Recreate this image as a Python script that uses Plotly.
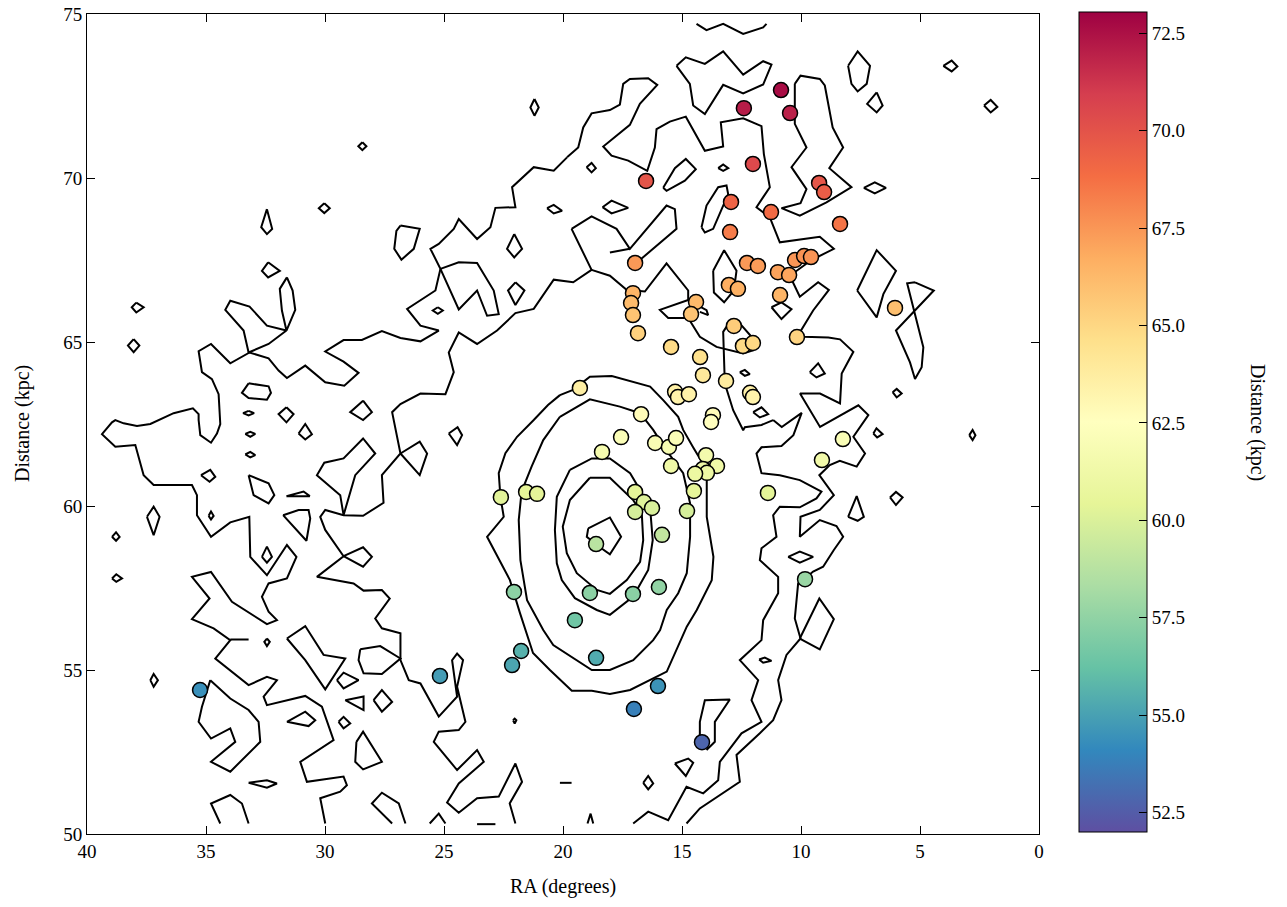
import plotly.graph_objects as go

# ---------------- member stars (RA deg, distance kpc) ----------------
ra = [10.84, 12.40, 10.46, 12.02, 16.51, 9.24, 9.03, 12.94, 11.26, 8.36,
      12.98, 16.97, 12.27, 11.81, 10.25, 9.87, 9.58, 10.97, 10.50, 13.03,
      12.65, 17.06, 17.14, 17.06, 14.41, 14.62, 10.88, 6.05, 12.82, 16.85,
      10.17, 12.44, 12.02, 15.46, 14.24, 14.12, 13.15, 19.29, 15.29, 15.17,
      14.71, 12.14, 12.02, 16.72, 13.70, 13.78, 17.56, 18.36, 16.13, 15.55,
      15.25, 8.24, 13.99, 13.53, 14.12, 13.95, 14.45, 9.12, 15.46, 14.50,
      16.97, 22.61, 21.55, 21.09, 11.39, 16.60, 16.97, 16.26, 14.79, 15.84,
      18.61, 22.06, 18.87, 17.06, 15.97, 9.83, 19.50, 21.76, 22.14, 18.61,
      25.17, 16.01, 35.25, 17.02, 14.16]
dist = [72.68, 72.13, 71.98, 70.43, 69.91, 69.85, 69.57, 69.27, 68.96, 68.60,
        68.35, 67.41, 67.41, 67.32, 67.50, 67.62, 67.59, 67.13, 67.04, 66.74,
        66.62, 66.49, 66.19, 65.82, 66.22, 65.85, 66.43, 66.04, 65.49, 65.27,
        65.15, 64.88, 64.97, 64.85, 64.54, 63.99, 63.81, 63.60, 63.48, 63.32,
        63.41, 63.45, 63.32, 62.80, 62.77, 62.56, 62.10, 61.65, 61.92, 61.80,
        62.07, 62.04, 61.55, 61.22, 61.13, 61.01, 60.98, 61.40, 61.22, 60.46,
        60.43, 60.27, 60.43, 60.37, 60.40, 60.12, 59.82, 59.94, 59.85, 59.12,
        58.84, 57.38, 57.35, 57.32, 57.53, 57.77, 56.52, 55.58, 55.15, 55.37,
        54.82, 54.51, 54.39, 53.81, 52.80]

x_ticks = [40, 35, 30, 25, 20, 15, 10, 5, 0]
y_ticks = [50, 55, 60, 65, 70, 75]
cbar_ticks = [52.5, 55.0, 57.5, 60.0, 62.5, 65.0, 67.5, 70.0, 72.5]
cbar_range = [52.0, 73.05]

# ---------------- density contours (RA, kpc) ----------------
contour_core = [
    [(18.94, 59.32), (18.03, 59.65), (17.56, 59.06), (18.03, 58.53), (18.58, 58.81), (19.00, 59.06), (18.94, 59.32)],
    [(18.87, 60.86), (18.03, 60.86), (17.05, 60.18), (16.69, 59.78), (16.63, 58.96), (16.76, 58.30), (17.32, 57.74),
     (18.03, 57.32), (18.58, 57.44), (19.42, 57.95), (19.84, 58.56), (20.01, 59.37), (19.71, 60.18), (18.87, 60.86)],
    [(19.71, 61.10), (18.79, 61.45), (18.03, 61.45), (17.18, 61.00), (16.76, 60.49), (16.34, 59.94), (16.23, 58.96),
     (16.42, 58.05), (17.05, 57.24), (18.03, 56.68), (18.58, 56.83), (19.50, 57.19), (20.05, 57.74), (20.26, 58.25),
     (20.34, 59.27), (20.26, 60.28), (19.71, 61.10)],
    [(20.13, 62.72), (18.87, 63.25), (17.61, 63.03), (16.76, 62.83), (16.21, 62.32), (15.67, 61.71), (14.95, 61.00),
     (14.66, 60.08), (14.66, 59.06), (14.80, 57.95), (15.16, 57.34), (15.64, 56.83), (15.92, 56.22), (16.21, 55.91),
     (17.05, 55.30), (18.03, 55.00), (18.79, 55.00), (20.41, 55.76), (20.83, 56.22), (21.51, 57.13), (21.79, 58.35),
     (21.86, 59.57), (21.74, 60.44), (21.32, 61.20), (20.83, 62.01), (20.13, 62.72)],
    [(20.13, 63.38), (19.58, 63.54), (18.87, 63.94), (17.95, 63.96), (16.34, 63.64), (15.79, 63.23), (15.16, 62.72),
     (14.95, 62.32), (14.54, 61.80), (13.96, 61.10), (13.96, 59.67), (13.68, 58.45), (13.75, 57.74), (14.38, 56.83),
     (14.80, 56.32), (15.29, 55.51), (15.64, 54.95), (17.18, 54.39), (18.03, 54.27), (18.79, 54.37), (19.63, 54.37),
     (20.55, 55.00), (21.26, 55.52), (21.81, 56.74), (22.23, 57.74), (23.19, 59.06), (22.49, 59.67), (22.63, 60.28),
     (22.70, 61.00), (22.42, 61.61), (21.93, 62.11), (21.23, 62.62), (20.63, 63.08), (20.13, 63.38)],
]

contour_east = [
    [(19.83, 70.63), (19.36, 70.93), (19.15, 71.54), (18.80, 71.97), (18.03, 72.07), (17.61, 72.24), (17.47, 72.87),
     (17.19, 73.02), (16.42, 73.04), (16.04, 72.84), (16.77, 72.26), (17.19, 71.62), (18.31, 70.96), (17.96, 70.68),
     (17.26, 70.53), (16.46, 70.22), (16.14, 70.93), (16.07, 71.49), (15.51, 71.72), (14.84, 71.87), (14.04, 70.83),
     (13.27, 70.96), (13.37, 71.70), (12.43, 71.82), (11.66, 71.58), (11.56, 70.73), (11.31, 69.72), (11.87, 69.11),
     (11.31, 68.80), (10.89, 68.04), (9.21, 68.21), (8.62, 67.84), (9.56, 67.50), (10.05, 67.23), (10.47, 67.02),
     (10.05, 66.38), (9.28, 66.82), (8.83, 66.59), (9.49, 65.96), (10.12, 65.21), (9.90, 65.16), (8.85, 65.14),
     (8.36, 65.08), (7.80, 64.70), (8.29, 64.04), (8.36, 63.13), (9.20, 63.43), (10.04, 63.43), (9.20, 62.41),
     (7.59, 63.07), (7.17, 62.77), (7.80, 62.11), (7.31, 61.60), (7.66, 61.20), (8.37, 61.38), (8.79, 61.25),
     (9.23, 60.94), (8.62, 60.33), (9.21, 59.88), (10.02, 59.67), (10.05, 59.06), (9.21, 59.57), (8.51, 59.39),
     (8.23, 59.06), (8.62, 58.66), (9.07, 58.15), (9.49, 58.00), (9.91, 57.74), (10.12, 57.64), (10.26, 56.57),
     (10.02, 55.96), (10.61, 55.46), (10.96, 54.69), (10.82, 54.08), (11.17, 53.47), (11.73, 53.07), (12.71, 52.41),
     (12.57, 51.59), (13.41, 51.19), (14.25, 50.78), (14.81, 50.32)],
    [(11.17, 62.62), (10.81, 62.41), (9.97, 62.84), (10.32, 62.16), (10.82, 61.83), (11.66, 61.79), (11.87, 61.60),
     (11.66, 61.00), (10.89, 60.94), (10.05, 60.79), (9.14, 60.44), (9.35, 60.23), (10.05, 59.96), (10.89, 59.98),
     (11.17, 59.72), (11.03, 59.06), (11.66, 58.71), (11.73, 58.35), (10.96, 57.84), (10.96, 57.34), (11.59, 56.52),
     (11.66, 55.91), (12.57, 55.30), (11.80, 54.69), (12.08, 54.08), (11.66, 53.42), (12.50, 53.07), (13.41, 52.20),
     (13.48, 51.64), (14.11, 51.24), (14.81, 51.44), (15.58, 50.42), (16.42, 50.68), (17.05, 50.32)],
    [(10.26, 72.87), (10.02, 73.12), (9.21, 73.02), (9.00, 72.82), (8.67, 71.54), (8.23, 70.93), (8.81, 70.30),
     (7.88, 69.72), (8.93, 69.26), (10.05, 68.85), (10.82, 69.08), (10.02, 69.23), (9.77, 69.66), (10.40, 70.33),
     (9.77, 70.93), (10.26, 71.65), (10.26, 72.87)],
    [(15.23, 73.42), (14.84, 73.68), (14.04, 73.48), (13.27, 73.86), (12.43, 73.15), (11.59, 73.56), (11.24, 73.46),
     (11.59, 72.85), (12.43, 72.58), (13.27, 72.84), (14.04, 71.95), (14.53, 72.21), (14.67, 72.87), (15.23, 73.42)],
    [(14.39, 74.70), (13.97, 74.51), (13.27, 74.70), (12.43, 74.39), (11.59, 74.59), (11.45, 74.70)],
    [(8.02, 73.42), (7.62, 73.86), (7.10, 73.42), (7.24, 72.87), (7.62, 72.64), (7.88, 72.87), (8.02, 73.42)],
    [(7.64, 66.57), (6.82, 67.80), (6.01, 67.17), (6.54, 66.46), (6.82, 65.75), (7.64, 66.57)],
    [(5.21, 66.82), (4.42, 66.57), (6.01, 65.35), (5.42, 64.38), (5.21, 63.87), (4.93, 64.23), (4.86, 64.84),
     (5.21, 65.85), (5.54, 66.79), (5.21, 66.82)],
    [(10.05, 55.96), (9.23, 57.18), (8.62, 56.55), (9.21, 55.63), (10.05, 55.96)],
    [(14.25, 52.81), (14.25, 53.42), (14.04, 54.08), (12.99, 54.10), (13.62, 53.42), (13.62, 52.81), (13.97, 52.56)],
]

contour_middle = [
    [(19.64, 68.45), (18.80, 68.83), (17.75, 68.45), (17.19, 67.84), (15.65, 69.16), (15.30, 69.05), (15.23, 68.45),
     (16.77, 67.50)],
    [(18.03, 67.73), (17.19, 67.84)],
    [(18.80, 67.20), (18.03, 67.02), (17.33, 66.59), (16.56, 66.54), (15.65, 67.40), (14.74, 66.57), (14.74, 66.28),
     (15.93, 65.98), (15.58, 65.73), (14.74, 65.73), (14.25, 65.16), (13.55, 64.85), (12.43, 64.65), (12.01, 64.75),
     (12.08, 65.16), (12.50, 65.51), (12.99, 65.62), (13.27, 65.31), (13.20, 63.73), (12.85, 62.92), (12.43, 62.31),
     (12.36, 62.40), (11.66, 62.47), (11.17, 62.62)],
    [(14.74, 66.28), (13.97, 65.97), (13.90, 65.82), (14.25, 65.92)],
    [(13.69, 67.17), (13.23, 67.80), (12.71, 67.17), (12.82, 66.57), (13.23, 66.21), (13.66, 66.51), (13.69, 67.17)],
    [(14.18, 68.50), (13.97, 69.16), (13.48, 69.72), (13.13, 69.77), (13.06, 69.51), (13.41, 68.90), (13.69, 68.45),
     (14.04, 68.34), (14.18, 68.50)],
    [(15.79, 69.70), (15.30, 70.30), (14.84, 70.58), (14.42, 70.27), (14.88, 69.92), (15.65, 69.61), (15.79, 69.70)],
]

contour_west = [
    [(19.83, 70.63), (20.39, 70.22), (21.23, 70.33), (22.14, 69.72), (22.00, 69.11), (22.84, 69.09), (23.05, 68.50),
     (23.61, 68.14), (24.38, 68.75), (24.59, 68.45), (25.22, 67.99), (25.57, 67.84), (25.15, 67.23), (25.36, 66.57),
     (26.55, 66.01), (25.99, 65.50), (25.22, 65.35), (25.99, 65.02), (26.83, 65.12), (27.61, 65.33), (28.45, 65.06),
     (29.22, 65.06), (29.99, 64.71), (29.22, 64.40), (28.59, 64.06), (29.19, 63.67), (29.99, 63.77), (30.83, 64.28),
     (31.60, 63.90), (31.95, 64.13), (32.37, 64.50), (33.17, 64.68), (33.98, 64.35), (34.79, 64.94), (35.31, 64.72),
     (35.17, 64.08), (34.75, 63.87), (34.47, 63.41), (34.40, 62.50), (34.54, 62.21), (34.79, 61.93), (35.24, 62.16),
     (35.31, 62.62), (35.31, 62.80), (35.55, 62.98), (36.36, 62.83), (37.34, 62.50), (37.90, 62.44), (38.46, 62.52),
     (38.81, 62.62), (38.95, 62.55), (39.37, 62.19), (38.81, 61.81), (37.97, 61.86), (37.62, 60.94), (37.20, 60.64),
     (35.59, 60.64), (35.38, 60.33), (35.38, 59.72), (34.79, 59.06), (33.98, 59.50), (33.18, 59.67), (33.14, 58.45),
     (32.44, 57.89), (31.60, 58.81), (31.20, 58.45), (31.60, 57.79), (32.37, 57.64), (32.65, 57.23), (32.37, 56.78),
     (32.02, 56.52), (32.44, 56.40), (33.91, 57.08), (34.79, 57.99), (35.59, 57.84), (34.85, 57.18), (35.59, 56.55),
     (34.68, 56.27), (33.98, 55.91), (34.61, 55.35), (33.21, 54.54), (32.44, 54.79), (32.02, 54.69), (32.58, 54.19),
     (32.44, 53.93), (30.83, 54.21), (30.13, 53.88), (29.64, 52.86), (31.04, 52.20), (30.76, 51.59), (29.22, 51.75),
     (29.08, 51.49), (29.36, 51.29), (30.20, 51.09), (29.99, 50.32)],
    [(19.64, 68.45), (18.80, 67.20), (19.57, 66.82), (20.13, 66.87), (20.39, 66.90), (21.23, 66.01), (22.00, 65.88),
     (22.77, 65.35), (23.61, 64.94), (24.38, 65.29), (24.80, 64.68), (24.59, 64.08), (24.94, 63.41), (25.99, 63.43),
     (26.83, 63.11), (27.18, 62.86), (27.11, 62.62), (26.83, 61.60), (27.61, 60.94), (27.54, 60.10), (28.40, 59.70),
     (29.22, 59.72), (29.99, 59.88), (30.20, 59.67), (29.99, 59.27), (29.22, 58.47), (30.34, 57.84), (29.64, 57.74),
     (28.80, 57.64), (28.38, 57.42), (27.61, 57.44), (27.28, 57.18), (27.89, 56.57), (27.61, 56.27), (26.83, 56.12),
     (26.83, 55.30), (26.48, 54.69), (25.99, 54.59), (25.22, 53.58), (24.45, 54.19), (24.66, 55.30), (24.45, 55.50),
     (24.20, 55.30), (24.45, 54.49), (24.10, 53.42), (24.38, 53.17), (25.22, 53.12), (25.43, 52.81), (24.45, 51.95),
     (23.61, 52.56), (23.33, 52.20), (24.38, 51.54), (24.87, 50.96), (24.38, 50.65), (23.61, 51.09), (22.70, 51.14),
     (22.00, 52.15), (21.72, 51.59), (22.24, 50.93), (22.00, 50.32)],
    [(29.22, 58.47), (28.40, 58.74), (28.03, 58.45), (28.40, 58.15), (29.22, 58.47)],
    [(26.83, 61.60), (26.02, 61.96), (25.71, 61.60), (26.02, 60.94), (26.83, 61.60)],
    [(29.22, 59.72), (28.73, 60.94), (27.89, 61.60), (28.40, 62.06), (29.22, 61.45), (30.03, 61.32), (30.34, 60.94),
     (29.36, 60.33), (29.22, 59.72)],
    [(25.15, 67.23), (24.38, 67.43), (23.61, 67.41), (22.91, 66.57), (22.70, 65.85), (23.19, 65.80), (23.61, 66.57),
     (24.38, 65.99), (25.15, 67.23)],
    [(31.60, 66.97), (31.36, 66.57), (31.25, 65.98), (31.62, 65.35), (31.81, 65.96), (31.90, 66.62), (31.60, 66.97)],
    [(31.62, 65.35), (32.44, 65.50), (33.17, 66.08), (33.98, 66.26), (34.19, 65.98), (33.42, 65.35), (33.21, 64.68),
     (32.37, 64.94), (31.62, 65.35)],
    [(34.82, 54.69), (35.17, 53.88), (35.31, 53.42), (34.79, 52.91), (33.98, 53.22), (33.77, 52.81), (34.79, 52.20),
     (33.98, 51.90), (32.72, 52.81), (32.79, 53.42), (33.21, 53.78), (33.98, 54.13), (34.82, 54.69)],
    [(34.40, 50.32), (34.79, 50.93), (33.98, 51.19), (33.49, 50.93), (33.21, 50.32)],
    [(27.18, 50.32), (28.03, 50.93), (27.61, 51.26), (26.90, 50.93), (26.62, 50.32)],
    [(25.60, 50.32), (25.22, 50.62), (24.94, 50.32)],
    [(31.60, 55.96), (30.83, 56.34), (30.06, 55.46), (29.15, 55.35), (29.99, 54.41), (30.83, 55.30), (31.60, 55.96)],
    [(28.52, 55.63), (27.68, 55.73), (26.83, 55.35), (27.61, 54.88), (28.38, 54.90), (28.59, 55.30), (28.52, 55.63)],
    [(28.68, 52.81), (28.40, 53.12), (27.61, 52.20), (28.40, 51.97), (28.73, 52.20), (28.68, 52.81)],
    [(26.83, 68.55), (26.02, 68.45), (26.27, 67.84), (26.79, 67.51), (27.09, 67.84), (27.00, 68.39), (26.83, 68.55)],
    [(33.21, 63.74), (32.37, 63.65), (32.27, 63.45), (32.44, 63.24), (33.21, 63.29), (33.49, 63.45), (33.21, 63.74)],
    [(33.21, 60.94), (32.37, 60.69), (32.13, 60.33), (32.37, 60.08), (33.00, 60.33), (33.21, 60.94)],
    [(31.76, 59.72), (31.11, 59.88), (30.69, 59.88), (30.62, 59.62), (30.78, 58.94), (31.76, 59.72)],
]

contour_islands = [
    [(21.20, 72.41), (21.02, 72.15), (21.20, 71.90), (21.37, 72.15), (21.20, 72.41)],
    [(28.43, 71.09), (28.26, 70.97), (28.43, 70.85), (28.60, 70.97), (28.43, 71.09)],
    [(30.03, 69.23), (29.80, 69.08), (30.03, 68.93), (30.26, 69.08), (30.03, 69.23)],
    [(32.44, 69.05), (32.22, 68.45), (32.44, 68.29), (32.68, 68.50), (32.44, 69.05)],
    [(20.67, 69.08), (20.39, 69.18), (20.04, 69.00), (20.39, 68.92), (20.67, 69.08)],
    [(22.05, 68.29), (21.72, 67.84), (22.05, 67.58), (22.35, 67.84), (22.05, 68.29)],
    [(22.00, 66.82), (21.62, 66.57), (22.00, 66.13), (22.31, 66.57), (22.00, 66.82)],
    [(25.26, 66.06), (25.05, 65.96), (25.26, 65.86), (25.47, 65.96), (25.26, 66.06)],
    [(32.39, 67.43), (31.90, 67.17), (32.39, 66.97), (32.65, 67.17), (32.39, 67.43)],
    [(37.93, 66.20), (37.62, 66.06), (37.93, 65.90), (38.12, 66.06), (37.93, 66.20)],
    [(38.04, 65.09), (37.80, 64.89), (38.04, 64.69), (38.28, 64.89), (38.04, 65.09)],
    [(33.21, 62.90), (32.98, 62.83), (33.21, 62.76), (33.44, 62.83), (33.21, 62.90)],
    [(31.62, 63.01), (31.32, 62.80), (31.62, 62.55), (31.95, 62.80), (31.62, 63.01)],
    [(28.40, 63.21), (28.03, 62.86), (28.40, 62.62), (28.94, 62.86), (28.40, 63.21)],
    [(33.35, 62.20), (33.14, 62.26), (32.93, 62.20), (33.14, 62.11), (33.35, 62.20)],
    [(31.11, 62.21), (30.83, 62.50), (30.55, 62.19), (30.83, 62.03), (31.11, 62.21)],
    [(33.35, 61.57), (33.14, 61.65), (32.93, 61.55), (33.14, 61.48), (33.35, 61.57)],
    [(35.21, 60.94), (34.82, 61.10), (34.61, 60.89), (34.85, 60.74), (35.21, 60.94)],
    [(31.62, 60.30), (30.90, 60.44), (30.64, 60.30), (31.62, 60.30)],
    [(37.48, 59.67), (37.20, 59.98), (36.95, 59.67), (37.20, 59.11), (37.48, 59.67)],
    [(38.95, 59.06), (38.78, 59.20), (38.63, 59.06), (38.78, 58.94), (38.95, 59.06)],
    [(38.95, 57.79), (38.77, 57.92), (38.53, 57.79), (38.77, 57.69), (38.95, 57.79)],
    [(34.89, 59.70), (34.79, 59.83), (34.68, 59.70), (34.79, 59.59), (34.89, 59.70)],
    [(32.65, 58.45), (32.44, 58.76), (32.23, 58.45), (32.44, 58.27), (32.65, 58.45)],
    [(32.44, 55.96), (32.32, 55.86), (32.44, 55.73), (32.55, 55.86), (32.44, 55.96)],
    [(33.98, 55.93), (33.21, 55.93)],
    [(37.34, 54.69), (37.20, 54.88), (37.02, 54.69), (37.20, 54.49), (37.34, 54.69)],
    [(29.50, 54.69), (29.22, 54.92), (28.59, 54.69), (29.22, 54.44), (29.50, 54.69)],
    [(29.15, 54.08), (28.38, 54.19), (28.38, 53.78), (29.15, 54.08)],
    [(27.96, 54.08), (27.61, 54.39), (27.18, 54.03), (27.61, 53.73), (27.96, 54.08)],
    [(31.60, 53.42), (30.83, 53.73), (30.41, 53.47), (30.69, 53.29), (31.60, 53.42)],
    [(29.43, 53.42), (29.22, 53.57), (28.94, 53.37), (29.22, 53.22), (29.43, 53.42)],
    [(33.21, 51.56), (32.44, 51.64), (32.02, 51.54), (32.44, 51.41), (33.21, 51.56)],
    [(24.80, 62.21), (24.43, 62.40), (24.24, 62.16), (24.45, 61.86), (24.80, 62.21)],
    [(22.10, 53.47), (22.03, 53.52), (21.96, 53.47), (22.03, 53.37), (22.10, 53.47)],
    [(23.61, 50.30), (22.84, 50.30)],
    [(20.13, 51.56), (19.64, 51.56)],
    [(18.97, 50.32), (18.84, 50.62), (18.73, 50.32)],
    [(15.30, 52.15), (14.74, 52.30), (14.53, 52.17), (14.84, 51.77), (15.30, 52.15)],
    [(16.63, 51.56), (16.42, 51.77), (16.21, 51.54), (16.42, 51.36), (16.63, 51.56)],
    [(11.76, 55.32), (11.52, 55.38), (11.24, 55.28), (11.59, 55.22), (11.76, 55.32)],
    [(10.54, 58.45), (10.05, 58.61), (9.49, 58.45), (10.05, 58.27), (10.54, 58.45)],
    [(8.02, 59.67), (7.66, 60.30), (7.36, 59.67), (7.62, 59.55), (8.02, 59.67)],
    [(6.26, 60.26), (6.01, 60.43), (5.73, 60.26), (6.01, 60.03), (6.26, 60.26)],
    [(6.96, 62.21), (6.83, 62.37), (6.57, 62.19), (6.80, 62.09), (6.96, 62.21)],
    [(2.93, 62.16), (2.79, 62.32), (2.67, 62.16), (2.79, 62.01), (2.93, 62.16)],
    [(6.15, 63.47), (5.98, 63.57), (5.77, 63.43), (5.98, 63.31), (6.15, 63.47)],
    [(9.63, 64.08), (9.28, 64.35), (9.00, 64.04), (9.35, 63.92), (9.63, 64.08)],
    [(12.57, 64.08), (12.36, 64.15), (12.15, 64.02), (12.36, 63.97), (12.57, 64.08)],
    [(12.01, 62.86), (11.66, 63.01), (11.38, 62.80), (11.73, 62.70), (12.01, 62.86)],
    [(11.24, 66.06), (10.82, 66.21), (10.40, 66.00), (10.82, 65.70), (11.24, 66.06)],
    [(7.36, 69.70), (6.90, 69.87), (6.43, 69.70), (6.90, 69.53), (7.36, 69.70)],
    [(6.82, 72.61), (6.57, 72.21), (6.82, 72.00), (7.22, 72.26), (6.82, 72.61)],
    [(4.02, 73.42), (3.67, 73.58), (3.43, 73.40), (3.67, 73.25), (4.02, 73.42)],
    [(2.31, 72.21), (2.03, 72.38), (1.75, 72.17), (2.03, 72.00), (2.31, 72.21)],
    [(19.01, 70.33), (18.80, 70.46), (18.62, 70.30), (18.80, 70.17), (19.01, 70.33)],
    [(13.48, 70.30), (13.27, 70.41), (13.06, 70.30), (13.27, 70.22), (13.48, 70.30)],
    [(18.34, 69.11), (17.96, 69.31), (17.26, 69.09), (17.96, 68.92), (18.34, 69.11)],
]

# ---------------- build figure ----------------
line_x, line_y = [], []
for group in (contour_core, contour_east, contour_middle, contour_west, contour_islands):
    for path in group:
        for px, py in path:
            line_x.append(px)
            line_y.append(py)
        line_x.append(None)
        line_y.append(None)

spectral_r = [
    [0.0, "#5e4fa2"], [0.1, "#3288bd"], [0.2, "#66c2a5"], [0.3, "#abdda4"],
    [0.4, "#e6f598"], [0.5, "#ffffbf"], [0.6, "#fee08b"], [0.7, "#fdae61"],
    [0.8, "#f46d43"], [0.9, "#d53e4f"], [1.0, "#9e0142"],
]

FONT = "Liberation Serif"

# plot area in the reference: x 87-1039, y 14-834 of a 1287x907 page
W, H = 1287, 907
ML, MT = 87, 14
PLOT_W, PLOT_H = 952, 820

fig = go.Figure()
fig.add_trace(go.Scatter(
    x=line_x, y=line_y, mode="lines",
    line=dict(color="black", width=2),
    hoverinfo="skip", showlegend=False, connectgaps=False,
))
fig.add_trace(go.Scatter(
    x=ra, y=dist, mode="markers", showlegend=False,
    marker=dict(
        size=15, color=dist, colorscale=spectral_r,
        cmin=cbar_range[0], cmax=cbar_range[1],
        line=dict(color="black", width=1.5),
        colorbar=dict(
            x=(1079 - ML) / PLOT_W, xanchor="left", xpad=0,
            y=(834 - 422) / PLOT_H, yanchor="middle", ypad=0,
            len=1.0, lenmode="fraction", thickness=68, thicknessmode="pixels",
            outlinecolor="black", outlinewidth=1,
            tickvals=cbar_ticks, tickformat=".1f",
            ticks="inside", ticklen=8, tickcolor="black", tickwidth=1,
            tickfont=dict(family=FONT, size=19, color="black"),
            ticklabeloverflow="allow",
        ),
    ),
))

axis_common = dict(
    showgrid=False, zeroline=False, showline=True, linecolor="black", linewidth=1,
    mirror="allticks", ticks="inside", ticklen=8, tickcolor="black", tickwidth=1,
    tickfont=dict(family=FONT, size=19, color="black"),
    ticklabeloverflow="allow",
)
fig.update_xaxes(range=[40, 0], tickvals=x_ticks, **axis_common)
fig.update_yaxes(range=[50, 75], tickvals=y_ticks, **axis_common)

fig.update_layout(
    width=W, height=H,
    margin=dict(l=ML, r=W - ML - PLOT_W, t=MT, b=H - MT - PLOT_H, autoexpand=False),
    paper_bgcolor="white", plot_bgcolor="white",
    font=dict(family=FONT, color="black"),
    hovermode=False,
    annotations=[
        dict(text="RA (degrees)", x=0.5, y=(834 - 886) / PLOT_H, xref="paper", yref="paper",
             showarrow=False, xanchor="center", yanchor="middle",
             font=dict(family=FONT, size=20, color="black")),
        dict(text="Distance (kpc)", x=(22 - ML) / PLOT_W, y=0.5, xref="paper", yref="paper",
             showarrow=False, textangle=-90, xanchor="center", yanchor="middle",
             font=dict(family=FONT, size=20, color="black")),
        dict(text="Distance (kpc)", x=(1258 - ML) / PLOT_W, y=(834 - 422) / PLOT_H, xref="paper", yref="paper",
             showarrow=False, textangle=90, xanchor="center", yanchor="middle",
             font=dict(family=FONT, size=20, color="black")),
    ],
)

# remove the default 8px page margin so the figure fills the window exactly
fig.write_html(
    "out.html",
    config={"displayModeBar": False, "staticPlot": True},
    post_script="document.body.style.margin='0px';document.body.style.overflow='hidden';",
)
